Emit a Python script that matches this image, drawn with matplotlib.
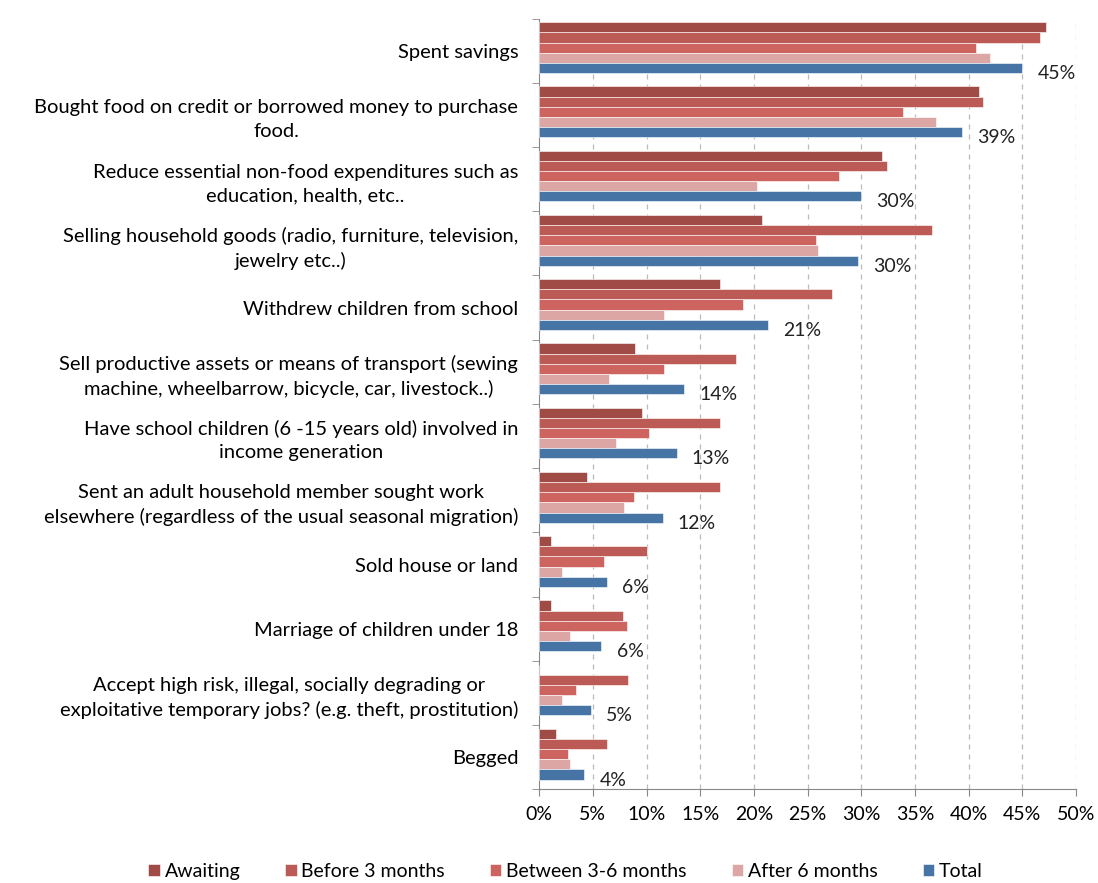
import numpy as np
import matplotlib.pyplot as plt

plt.rcParams['font.family'] = ['Lato', 'DejaVu Sans']

categories = [
    "Spent savings",
    "Bought food on credit or borrowed money to purchase\nfood.",
    "Reduce essential non-food expenditures such as\neducation, health, etc..",
    "Selling household goods (radio, furniture, television,\njewelry etc..)",
    "Withdrew children from school",
    "Sell productive assets or means of transport (sewing\nmachine, wheelbarrow, bicycle, car, livestock..)",
    "Have school children (6 -15 years old) involved in\nincome generation",
    "Sent an adult household member sought work\nelsewhere (regardless of the usual seasonal migration)",
    "Sold house or land",
    "Marriage of children under 18",
    "Accept high risk, illegal, socially degrading or\nexploitative temporary jobs? (e.g. theft, prostitution)",
    "Begged",
]
awaiting = [47.2, 41.0, 31.9, 20.8, 16.8, 8.9, 9.6, 4.5, 1.1, 1.1, 0.0, 1.6]
before_3 = [46.6, 41.3, 32.4, 36.6, 27.3, 18.3, 16.8, 16.8, 10.0, 7.8, 8.3, 6.3]
between_3_6 = [40.7, 33.9, 27.9, 25.8, 19.0, 11.6, 10.2, 8.8, 6.0, 8.2, 3.4, 2.7]
after_6 = [42.0, 37.0, 20.3, 26.0, 11.6, 6.5, 7.2, 7.9, 2.1, 2.9, 2.1, 2.9]
total = [45.0, 39.4, 30.0, 29.7, 21.3, 13.5, 12.8, 11.5, 6.3, 5.8, 4.8, 4.2]
total_labels = ["45%", "39%", "30%", "30%", "21%", "14%", "13%", "12%", "6%", "6%", "5%", "4%"]

series = [awaiting, before_3, between_3_6, after_6, total]
names = ["Awaiting", "Before 3 months", "Between 3-6 months", "After 6 months", "Total"]
colors = ["#A04B46", "#BC5B55", "#CD645F", "#DCA6A5", "#4675A5"]

fig = plt.figure(figsize=(10.98, 8.83), dpi=100)
ax = fig.add_axes([0.491, 0.106, 0.489, 0.873])

y = np.arange(len(categories))
h = 0.158
for i, (vals, name, c) in enumerate(zip(series, names, colors)):
    ax.barh(y + (i - 2.3) * h, vals, height=h, color=c, label=name,
            edgecolor='white', linewidth=0.4, zorder=3)

for yi, v, lab in zip(y, total, total_labels):
    ax.annotate(lab, (v, yi + 1.7 * h), xytext=(11, -4), textcoords='offset points',
                va='center', ha='left', fontsize=14, color='#222222')

ax.set_xlim(0, 50)
ax.set_ylim(len(categories) - 0.5, -0.5)
ax.set_xticks(np.arange(0, 51, 5))
ax.set_xticklabels([f"{t}%" for t in range(0, 51, 5)], fontsize=14)
ax.set_yticks(y)
ax.set_yticklabels(categories, fontsize=14.5, multialignment='center',
                   linespacing=1.45)
ax.set_yticks(np.arange(-0.5, len(categories), 1), minor=True)
ax.tick_params(axis='y', which='major', length=0, pad=15)
ax.tick_params(axis='y', which='minor', length=5, color='#888888')
ax.tick_params(axis='x', length=5, color='#888888', pad=7)

for x in range(5, 51, 5):
    ax.axvline(x, color='#BBBBBB', linestyle=(0, (4, 4)), linewidth=0.9, zorder=1)

for s in ['top', 'right']:
    ax.spines[s].set_visible(False)
ax.spines['left'].set_color('#888888')
ax.spines['bottom'].set_color('#888888')

fig.legend(loc='center', bbox_to_anchor=(0.515, 0.013), ncol=5, frameon=False,
           fontsize=14, handlelength=0.6, handleheight=0.6, handletextpad=0.25,
           columnspacing=2.3)

fig.savefig("out.png", dpi=100)
